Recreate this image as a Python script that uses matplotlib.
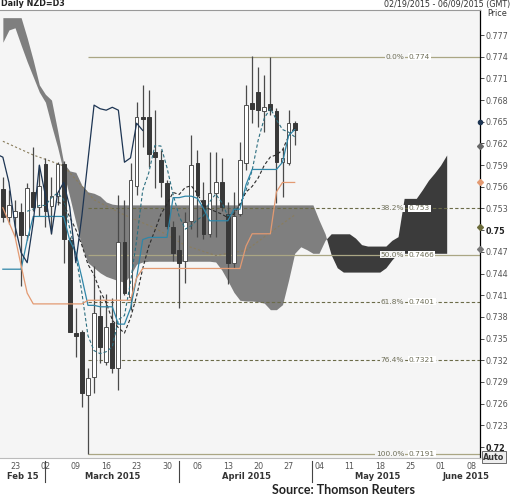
import numpy as np
import matplotlib.pyplot as plt

plt.rcParams['font.family'] = 'DejaVu Sans'

# trading-day index, 0 = Mon 23 Feb 2015 (first bar is Thu 19 Feb)
day = np.arange(-2, 47)
opens = np.array([0.7557, 0.7518, 0.7518, 0.7525, 0.7493, 0.7553, 0.7532, 0.7591, 0.7533, 0.7547,
                  0.7591, 0.7486, 0.7358, 0.7359, 0.7272, 0.7297, 0.7381, 0.7317, 0.7371, 0.7310,
                  0.7483, 0.7407, 0.7561, 0.7656, 0.7656, 0.7608, 0.7597, 0.7565, 0.7504, 0.7472,
                  0.7458, 0.7513, 0.7593, 0.7542, 0.7495, 0.7551, 0.7566, 0.7523, 0.7455, 0.7523,
                  0.7593, 0.7676, 0.7691, 0.7665, 0.7674, 0.7665, 0.7594, 0.7593, 0.7648])
highs = np.array([0.7573, 0.7555, 0.7542, 0.7538, 0.7565, 0.7615, 0.7590, 0.7600, 0.7573, 0.7594,
                  0.7596, 0.7491, 0.7392, 0.7362, 0.7310, 0.7451, 0.7410, 0.7412, 0.7406, 0.7548,
                  0.7542, 0.7593, 0.7677, 0.7701, 0.7694, 0.7666, 0.7611, 0.7569, 0.7512, 0.7493,
                  0.7525, 0.7632, 0.7611, 0.7566, 0.7608, 0.7608, 0.7600, 0.7539, 0.7553, 0.7622,
                  0.7701, 0.7741, 0.7726, 0.7715, 0.7740, 0.7669, 0.7614, 0.7666, 0.7651])
lows = np.array([0.7511, 0.7509, 0.7490, 0.7423, 0.7486, 0.7527, 0.7520, 0.7504, 0.7495, 0.7535,
                 0.7455, 0.7359, 0.7324, 0.7255, 0.7191, 0.7275, 0.7316, 0.7313, 0.7302, 0.7279,
                 0.7410, 0.7389, 0.7548, 0.7615, 0.7587, 0.7559, 0.7546, 0.7502, 0.7458, 0.7393,
                 0.7427, 0.7502, 0.7490, 0.7488, 0.7490, 0.7490, 0.7527, 0.7426, 0.7447, 0.7520,
                 0.7583, 0.7648, 0.7643, 0.7636, 0.7659, 0.7538, 0.7546, 0.7590, 0.7618])
closes = np.array([0.7518, 0.7535, 0.7526, 0.7493, 0.7559, 0.7532, 0.7561, 0.7526, 0.7547, 0.7591,
                   0.7488, 0.7359, 0.7353, 0.7275, 0.7295, 0.7385, 0.7338, 0.7366, 0.7309, 0.7483,
                   0.7413, 0.7569, 0.7656, 0.7654, 0.7605, 0.7601, 0.7566, 0.7506, 0.7469, 0.7455,
                   0.7511, 0.7590, 0.7548, 0.7495, 0.7551, 0.7566, 0.7532, 0.7455, 0.7520, 0.7597,
                   0.7673, 0.7668, 0.7666, 0.7670, 0.7666, 0.7594, 0.7600, 0.7648, 0.7638])

tenkan = np.array([0.7446, 0.7446, 0.7446, 0.7446, 0.7486, 0.7519, 0.7519, 0.7519, 0.7519, 0.7519,
                   0.7519, 0.7486, 0.7469, 0.7434, 0.7396, 0.7396, 0.7394, 0.7394, 0.7394, 0.7370,
                   0.7370, 0.7392, 0.7434, 0.7487, 0.7490, 0.7490, 0.7490, 0.7490, 0.7545, 0.7545,
                   0.7547, 0.7547, 0.7544, 0.7530, 0.7513, 0.7513, 0.7513, 0.7513, 0.7529, 0.7529,
                   0.7563, 0.7584, 0.7584, 0.7584, 0.7584, 0.7584, 0.7594, 0.7631, 0.7639])
kijun = np.array([0.7531, 0.7511, 0.7491, 0.7451, 0.7413, 0.7398, 0.7398, 0.7398, 0.7398, 0.7398,
                  0.7398, 0.7398, 0.7398, 0.7398, 0.7403, 0.7403, 0.7403, 0.7403, 0.7403, 0.7403,
                  0.7403, 0.7403, 0.7434, 0.7447, 0.7447, 0.7447, 0.7447, 0.7447, 0.7447, 0.7447,
                  0.7447, 0.7447, 0.7447, 0.7447, 0.7447, 0.7447, 0.7447, 0.7447, 0.7447, 0.7447,
                  0.7478, 0.7495, 0.7495, 0.7495, 0.7495, 0.7553, 0.7566, 0.7566, 0.7566])

# ichimoku cloud, projected 25 days ahead
cloud_day = np.arange(-2, 72)
span_a = np.array([0.7760, 0.7777, 0.7780, 0.7756, 0.7733, 0.7712, 0.7691, 0.7677, 0.7645, 0.7615,
                   0.7580, 0.7546, 0.7511, 0.7477, 0.7455, 0.7448, 0.7441, 0.7436, 0.7433, 0.7430,
                   0.7428, 0.7438, 0.7453, 0.7456, 0.7457, 0.7457, 0.7457, 0.7457, 0.7457, 0.7457,
                   0.7457, 0.7457, 0.7457, 0.7457, 0.7457, 0.7456, 0.7445, 0.7430, 0.7414, 0.7403,
                   0.7402, 0.7402, 0.7401, 0.7399, 0.7390, 0.7390, 0.7397, 0.7431, 0.7468, 0.7477,
                   0.7473, 0.7468, 0.7468, 0.7486, 0.7495, 0.7495, 0.7495, 0.7495, 0.7489, 0.7480,
                   0.7478, 0.7478, 0.7478, 0.7478, 0.7486, 0.7491, 0.7544, 0.7544, 0.7544, 0.7556,
                   0.7569, 0.7579, 0.7590, 0.7604])
span_b = np.array([0.7794, 0.7794, 0.7794, 0.7794, 0.7766, 0.7735, 0.7701, 0.7688, 0.7680, 0.7638,
                   0.7593, 0.7582, 0.7580, 0.7562, 0.7553, 0.7551, 0.7547, 0.7539, 0.7536, 0.7535,
                   0.7535, 0.7535, 0.7535, 0.7535, 0.7535, 0.7535, 0.7535, 0.7535, 0.7535, 0.7535,
                   0.7535, 0.7535, 0.7535, 0.7535, 0.7535, 0.7535, 0.7535, 0.7535, 0.7535, 0.7535,
                   0.7535, 0.7535, 0.7535, 0.7535, 0.7535, 0.7535, 0.7535, 0.7535, 0.7535, 0.7535,
                   0.7535, 0.7535, 0.7514, 0.7495, 0.7466, 0.7448, 0.7442, 0.7442, 0.7442, 0.7442,
                   0.7442, 0.7442, 0.7442, 0.7448, 0.7459, 0.7468, 0.7468, 0.7468, 0.7468, 0.7468,
                   0.7468, 0.7468, 0.7468, 0.7468])

# long moving average, read weekly
ma_day = [-2, 3, 8, 13, 18, 23, 28, 33, 38, 43, 46]
ma_long = [0.7623, 0.7604, 0.7589, 0.7542, 0.7521, 0.7503, 0.7479, 0.7465, 0.7472, 0.7503, 0.7521]

fib_pct = ['0.0%', '38.2%', '50.0%', '61.8%', '76.4%', '100.0%']
fib_val = [0.774, 0.753, 0.7466, 0.7401, 0.7321, 0.7191]
fib_dash = [False, True, False, True, True, False]

tick_days = np.arange(0, 76, 5)
tick_labels = ['23', '02', '09', '16', '23', '30', '06', '13', '20', '27', '04', '11', '18', '25', '01', '08']
months = ['Feb 15', 'March 2015', 'April 2015', 'May 2015', 'June 2015']
month_pos = [1.3, 16, 38, 59.7, 74.2]
month_breaks = [4.9, 26.9, 48.9]

axis_marks = [0.7650, 0.7616, 0.7567, 0.7504, 0.7474]
mark_colors = ['#1d3553', '#666666', '#e39a72', '#6b6b3a', '#777777']

fig = plt.figure(figsize=(5.13, 5.04), dpi=100)
ax = fig.add_axes([0, 1 - 458 / 504, 480 / 513, 448 / 504])
ax.set_facecolor('#f5f5f5')
x0, x1 = -2.47, 76.48
ax.set_xlim(x0, x1)
ax.set_ylim(0.71848, 0.78046)

bear = span_b >= span_a
ax.fill_between(cloud_day, span_a, span_b, where=bear, interpolate=True,
                color='#7f7f7f', lw=0, zorder=1)
ax.fill_between(cloud_day, span_a, span_b, where=~bear, interpolate=True,
                color='#3b3b3b', lw=0, zorder=1)

for pct, val, dashed in zip(fib_pct, fib_val, fib_dash):
    if dashed:
        ax.hlines(val, 12, x1, colors='#6b6b48', lw=0.8, linestyles=(0, (3, 2)), zorder=2)
    else:
        ax.hlines(val, 12, x1, colors='#aaa684', lw=0.9, zorder=2)
    ax.text(64.0, val, pct, ha='right', va='center', fontsize=5.3, color='#6e6e58',
            bbox=dict(fc='#f5f5f5', ec='none', pad=0.4), zorder=6)
    ax.text(64.8, val, str(val), ha='left', va='center', fontsize=5.3, color='#6e6e58',
            bbox=dict(fc='white', ec='none', pad=0.4), zorder=6)

ax.plot(ma_day, ma_long, color='#8a7d5c', lw=0.8, ls=(0, (2, 2)), zorder=2.5)

up = closes >= opens
body_lo = np.minimum(opens, closes)
body_h = np.maximum(np.abs(closes - opens), 0.00008)
ax.vlines(day, lows, highs, color='#4a4a4a', lw=0.9, zorder=3)
ax.bar(day[up], body_h[up], 0.62, bottom=body_lo[up], color='white',
       edgecolor='#505050', lw=0.7, zorder=3.5)
ax.bar(day[~up], body_h[~up], 0.62, bottom=body_lo[~up], color='#383838',
       edgecolor='#383838', lw=0.7, zorder=3.5)

sma5 = np.convolve(closes, np.ones(5) / 5, mode='valid')
sma10 = np.convolve(closes, np.ones(10) / 10, mode='valid')
ax.plot(day[4:], sma5, color='#2c6e80', lw=0.8, ls=(0, (3, 2)), zorder=4)
ax.plot(day[9:], sma10, color='#2b2b2b', lw=0.8, ls=(0, (3, 2)), zorder=4)
ax.plot(day, tenkan, color='#2f86a8', lw=0.9, zorder=4)
ax.plot(day, kijun, color='#e39a72', lw=0.9, zorder=4)
ax.plot(day - 25, closes, color='#1d3553', lw=0.9, zorder=4)

for v, c in zip(axis_marks, mark_colors):
    ax.plot(x1, v, marker='o' if c == '#1d3553' else 'D', ms=3, color=c,
            clip_on=False, zorder=7)

yt = np.arange(0.720, 0.7775, 0.003)
ax.yaxis.tick_right()
ax.set_yticks(yt)
ax.set_yticklabels([f'{v:.3f}'.rstrip('0') for v in yt], fontsize=5.8, color='#555555')
for lab, v in zip(ax.get_yticklabels(), yt):
    if abs(v - 0.75) < 1e-6 or abs(v - 0.72) < 1e-6:
        lab.set_fontweight('bold')
        lab.set_color('#222222')
ax.tick_params(axis='y', length=3, width=0.6, pad=1, color='#333333')

ax.set_xticks(tick_days)
ax.set_xticklabels(tick_labels, fontsize=5.8, color='#555555')
ax.tick_params(axis='x', length=0, pad=3)

ax.spines['left'].set_visible(False)
ax.spines['top'].set_color('#999999')
ax.spines['top'].set_linewidth(0.8)
ax.spines['bottom'].set_color('#bbbbbb')
ax.spines['right'].set_color('black')
ax.spines['right'].set_linewidth(0.9)

xt = ax.get_xaxis_transform()
for m, p in zip(months, month_pos):
    ax.text(p, -0.0424, m, transform=xt, ha='center', va='center', fontsize=6,
            fontweight='bold', color='#333333')
for b in month_breaks:
    ax.plot([b, b], [-0.006, -0.054], transform=xt, clip_on=False, color='#444444', lw=0.8)

fig.text(0.002, 1 - 4 / 504, 'Daily NZD=D3', ha='left', va='center', fontsize=5.8,
         fontweight='bold', color='#222222')
fig.text(510 / 513, 1 - 4 / 504, '02/19/2015 - 06/09/2015 (GMT)', ha='right', va='center',
         fontsize=5.8, color='#333333')
fig.text(497 / 513, 1 - 14 / 504, 'Price', ha='center', va='center', fontsize=5.8,
         color='#333333')
fig.text(494 / 513, 1 - 457 / 504, 'Auto', ha='center', va='center', fontsize=5.8,
         fontweight='bold', color='#333333',
         bbox=dict(fc='#eeeeee', ec='#555555', lw=0.6, pad=0.8))
fig.text(343 / 513, 1 - 490 / 504, 'Source: Thomson Reuters', ha='center', va='center',
         fontsize=9, fontweight='bold', family='Lato', color='#222222')

fig.savefig('out.png', dpi=100)
